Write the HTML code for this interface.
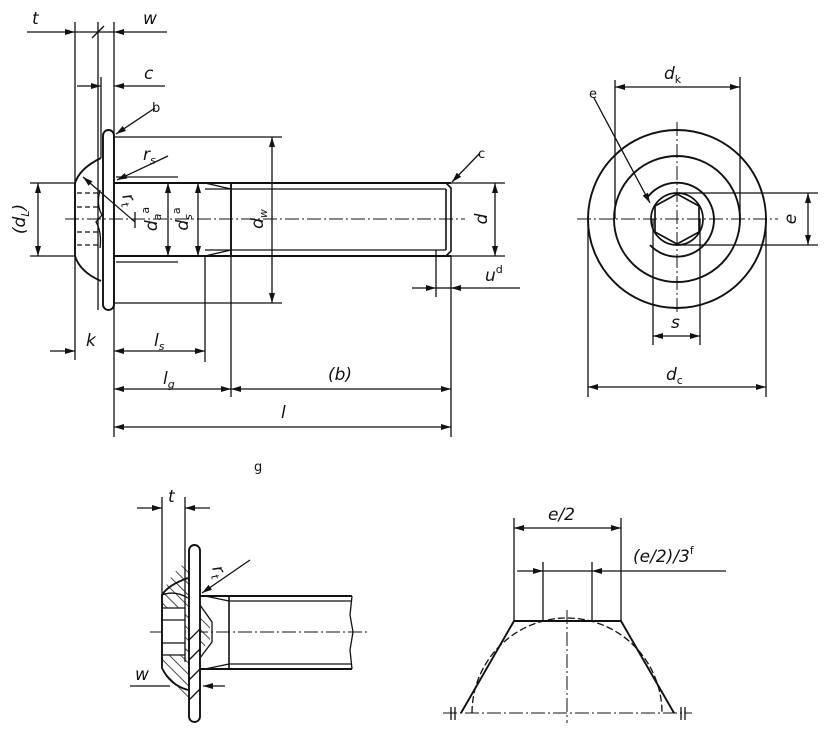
<!DOCTYPE html>
<html><head><style>
html,body{margin:0;padding:0;background:#fff;}
svg{display:block;}
text{font-family:"DejaVu Sans","Liberation Sans",sans-serif;font-style:italic;fill:#111;}
.s{font-style:normal;}
</style></head><body>
<svg width="826" height="737" viewBox="0 0 826 737" xmlns="http://www.w3.org/2000/svg">
<defs>
<marker id="a" viewBox="0 0 10 6" refX="10" refY="3" markerWidth="11" markerHeight="6" markerUnits="userSpaceOnUse" orient="auto"><path d="M0,0L10,3L0,6z" fill="#111"/></marker>
<pattern id="h" width="8" height="8" patternUnits="userSpaceOnUse" patternTransform="rotate(-45)"><line x1="0" y1="0" x2="0" y2="8" stroke="#111" stroke-width="1.5"/></pattern>
</defs>
<g stroke="#111" fill="none" stroke-width="1.3">
<!-- ===== main view ===== -->
<line x1="65" y1="219" x2="465" y2="219" stroke-dasharray="14,3,2,3" stroke-width="1"/>
<path d="M101,158 Q80,168 75,183 L75,256 Q80,272 101,281" stroke-width="1.9"/>
<rect x="103" y="130" width="11" height="180" rx="5.5" stroke-width="1.9"/>
<g stroke-dasharray="5,3"><line x1="77" y1="193" x2="100" y2="193"/><line x1="77" y1="207" x2="100" y2="207"/><line x1="77" y1="232" x2="100" y2="232"/><line x1="77" y1="245" x2="100" y2="245"/></g>
<path d="M100,190 Q96,205 102,215 L96,222 Q102,232 100,248" />
<path d="M114,183 L451,183 M114,256 L451,256" stroke-width="1.9"/>
<path d="M205,189 L446,189 M205,250 L446,250" />
<path d="M205,183 L231,189 M205,256 L231,250" />
<line x1="231" y1="183" x2="231" y2="256" stroke-width="1.9"/>
<path d="M446,183 L451,188 L451,251 L446,256 M446,189 L446,250" stroke-width="1.6"/>
<line x1="75" y1="22" x2="75" y2="360"/>
<line x1="98" y1="22" x2="98" y2="310"/>
<line x1="101" y1="77" x2="101" y2="158"/>
<line x1="114" y1="22" x2="114" y2="437"/>
<line x1="30" y1="183" x2="75" y2="183"/><line x1="30" y1="256" x2="75" y2="256"/>
<line x1="116" y1="177" x2="178" y2="177"/><line x1="116" y1="262" x2="178" y2="262"/>
<line x1="114" y1="137" x2="282" y2="137"/><line x1="114" y1="303" x2="282" y2="303"/>
<line x1="451" y1="183" x2="505" y2="183"/><line x1="451" y1="256" x2="505" y2="256"/>
<line x1="205" y1="256" x2="205" y2="362"/>
<line x1="231" y1="256" x2="231" y2="397"/>
<line x1="451" y1="256" x2="451" y2="437"/>
<line x1="436" y1="250" x2="436" y2="297"/>
<line x1="27" y1="32" x2="75" y2="32" marker-end="url(#a)"/>
<line x1="75" y1="32" x2="114" y2="32"/>
<line x1="92" y1="38" x2="104" y2="26"/>
<line x1="167" y1="32" x2="114" y2="32" marker-end="url(#a)"/>
<line x1="77" y1="86" x2="101" y2="86" marker-end="url(#a)"/>
<line x1="165" y1="86" x2="114" y2="86" marker-end="url(#a)"/>
<line x1="155" y1="108" x2="116" y2="134" marker-end="url(#a)"/>
<line x1="168" y1="156" x2="117" y2="180" marker-end="url(#a)"/>
<line x1="135" y1="222" x2="83" y2="177" marker-end="url(#a)"/>
<line x1="135" y1="212" x2="135" y2="228"/>
<line x1="38" y1="219" x2="38" y2="183" marker-end="url(#a)"/><line x1="38" y1="219" x2="38" y2="256" marker-end="url(#a)"/>
<line x1="168" y1="219" x2="168" y2="183" marker-end="url(#a)"/><line x1="168" y1="219" x2="168" y2="256" marker-end="url(#a)"/>
<line x1="198" y1="219" x2="198" y2="183" marker-end="url(#a)"/><line x1="198" y1="219" x2="198" y2="256" marker-end="url(#a)"/>
<line x1="272" y1="219" x2="272" y2="137" marker-end="url(#a)"/><line x1="272" y1="219" x2="272" y2="303" marker-end="url(#a)"/>
<line x1="495" y1="219" x2="495" y2="183" marker-end="url(#a)"/><line x1="495" y1="219" x2="495" y2="256" marker-end="url(#a)"/>
<line x1="480" y1="153" x2="452" y2="182" marker-end="url(#a)"/>
<line x1="412" y1="288" x2="436" y2="288" marker-end="url(#a)"/>
<line x1="436" y1="288" x2="451" y2="288"/>
<line x1="520" y1="288" x2="451" y2="288" marker-end="url(#a)"/>
<line x1="50" y1="351" x2="75" y2="351" marker-end="url(#a)"/>
<line x1="160" y1="351" x2="114" y2="351" marker-end="url(#a)"/><line x1="160" y1="351" x2="205" y2="351" marker-end="url(#a)"/>
<line x1="170" y1="389" x2="114" y2="389" marker-end="url(#a)"/><line x1="170" y1="389" x2="231" y2="389" marker-end="url(#a)"/>
<line x1="340" y1="389" x2="231" y2="389" marker-end="url(#a)"/><line x1="340" y1="389" x2="451" y2="389" marker-end="url(#a)"/>
<line x1="280" y1="427" x2="114" y2="427" marker-end="url(#a)"/><line x1="280" y1="427" x2="451" y2="427" marker-end="url(#a)"/>

<!-- ===== end view ===== -->
<line x1="577" y1="219" x2="778" y2="219" stroke-dasharray="14,3,2,3" stroke-width="1"/>
<line x1="677" y1="122" x2="677" y2="312" stroke-dasharray="14,3,2,3" stroke-width="1"/>
<circle cx="677" cy="219" r="89" stroke-width="1.9"/>
<circle cx="677" cy="219" r="63" stroke-width="1.9"/>
<path d="M647,198 A37,37 0 1 1 650,245" stroke-width="1.9"/>
<circle cx="677" cy="219" r="26" stroke-width="1.7"/>
<polygon points="677,194 699,206 699,232 677,244 655,232 655,206" stroke-width="1.7"/>
<line x1="615" y1="80" x2="615" y2="219"/><line x1="740" y1="77" x2="740" y2="219"/>
<line x1="677" y1="87" x2="615" y2="87" marker-end="url(#a)"/><line x1="677" y1="87" x2="740" y2="87" marker-end="url(#a)"/>
<line x1="594" y1="98" x2="650" y2="203" marker-end="url(#a)"/>
<line x1="677" y1="193" x2="818" y2="193"/><line x1="677" y1="245" x2="818" y2="245"/>
<line x1="808" y1="219" x2="808" y2="193" marker-end="url(#a)"/><line x1="808" y1="219" x2="808" y2="245" marker-end="url(#a)"/>
<line x1="653" y1="219" x2="653" y2="345"/><line x1="700" y1="219" x2="700" y2="345"/>
<line x1="677" y1="336" x2="653" y2="336" marker-end="url(#a)"/><line x1="677" y1="336" x2="700" y2="336" marker-end="url(#a)"/>
<line x1="588" y1="219" x2="588" y2="397"/><line x1="766" y1="219" x2="766" y2="397"/>
<line x1="677" y1="387" x2="588" y2="387" marker-end="url(#a)"/><line x1="677" y1="387" x2="766" y2="387" marker-end="url(#a)"/>

<!-- ===== section detail ===== -->
<line x1="150" y1="632" x2="370" y2="632" stroke-dasharray="14,3,2,3" stroke-width="1"/>
<path d="M162,595 L162,668 L170,686 L189,700 L189,560 Q170,572 162,595 Z" fill="url(#h)" stroke="none"/>
<path d="M189,608 L200,612 L210,625 L210,640 L200,652 L189,656 Z" fill="url(#h)" stroke="none"/>
<rect x="163" y="608" width="22" height="47" fill="#fff" stroke="none"/>
<path d="M188,578 Q168,585 162,595 L162,668 Q170,685 188,690" stroke-width="1.9"/>
<rect x="189" y="545" width="11" height="177" rx="5.5" stroke-width="1.9" fill="#fff"/>
<path d="M189,640 L200,629 M189,660 L200,649 M189,680 L200,669 M189,700 L200,689" />
<path d="M162,608 L185,608 M162,655 L185,655 M162,620 L185,620 M162,643 L185,643" />
<path d="M185,600 L185,662 M200,605 L212,622 L212,642 L200,658" />
<path d="M162,595 Q175,590 188,598" />
<path d="M200,596 L352,596 M200,669 L352,669" stroke-width="1.9"/>
<path d="M229,601 L352,601 M229,664 L352,664 M205,596 L229,601 M205,669 L229,664" />
<line x1="229" y1="596" x2="229" y2="669" stroke-width="1.6"/>
<path d="M352,596 L350,615 L353,632 L350,650 L352,669" />
<line x1="162" y1="497" x2="162" y2="595"/><line x1="185" y1="497" x2="185" y2="600"/>
<line x1="137" y1="508" x2="162" y2="508" marker-end="url(#a)"/>
<line x1="210" y1="508" x2="185" y2="508" marker-end="url(#a)"/>
<line x1="250" y1="560" x2="202" y2="593" marker-end="url(#a)"/>
<line x1="130" y1="686" x2="170" y2="686"/>
<line x1="225" y1="686" x2="203" y2="686" marker-end="url(#a)"/>

<!-- ===== profile detail ===== -->
<line x1="443" y1="713" x2="692" y2="713" stroke-dasharray="14,3,2,3" stroke-width="1"/>
<line x1="567" y1="610" x2="567" y2="723" stroke-dasharray="14,3,2,3" stroke-width="1"/>
<path d="M461,713 L514,621 L621,621 L674,713" stroke-width="1.9"/>
<path d="M472,713 A95,95 0 0 1 662,713" stroke-dasharray="7,3"/>
<line x1="514" y1="518" x2="514" y2="621"/><line x1="621" y1="518" x2="621" y2="621"/>
<line x1="567" y1="528" x2="514" y2="528" marker-end="url(#a)"/><line x1="567" y1="528" x2="621" y2="528" marker-end="url(#a)"/>
<line x1="543" y1="562" x2="543" y2="621"/><line x1="592" y1="562" x2="592" y2="621"/>
<line x1="517" y1="571" x2="543" y2="571" marker-end="url(#a)"/>
<line x1="726" y1="571" x2="592" y2="571" marker-end="url(#a)"/>
<line x1="543" y1="571" x2="592" y2="571"/>
<path d="M451,707 L451,720 M455,707 L455,720 M681,707 L681,720 M685,707 L685,720"/>
</g>
<g font-size="17">
<text x="32" y="24">t</text>
<text x="143" y="24">w</text>
<text x="144" y="79">c</text>
<text x="152" y="112" font-size="13" class="s">b</text>
<text x="143" y="160">r<tspan font-size="11" dy="4">s</tspan></text>
<text transform="translate(122,196) rotate(70)">r<tspan font-size="11" dy="4">t</tspan></text>
<text transform="translate(25,219) rotate(-90)" text-anchor="middle">(d<tspan font-size="11" dy="4">L</tspan><tspan dy="-4">)</tspan></text>
<text transform="translate(157,219) rotate(-90)" text-anchor="middle">d<tspan font-size="11" dy="4">a</tspan><tspan font-size="11" dy="-12" class="s">a</tspan></text>
<text transform="translate(188,219) rotate(-90)" text-anchor="middle">d<tspan font-size="11" dy="4">s</tspan><tspan font-size="11" dy="-12" class="s">a</tspan></text>
<text transform="translate(263,219) rotate(-90)" text-anchor="middle">d<tspan font-size="11" dy="4">w</tspan></text>
<text transform="translate(487,219) rotate(-90)" text-anchor="middle">d</text>
<text x="478" y="158" font-size="13" class="s">c</text>
<text x="485" y="281">u<tspan font-size="11" dy="-8" class="s">d</tspan></text>
<text x="86" y="346">k</text>
<text x="154" y="346">l<tspan font-size="11" dy="4">s</tspan></text>
<text x="163" y="384">l<tspan font-size="11" dy="4">g</tspan></text>
<text x="328" y="380">(b)</text>
<text x="281" y="418">l</text>
<text x="664" y="79">d<tspan font-size="11" dy="4" class="s">k</tspan></text>
<text x="589" y="98" font-size="13" class="s">e</text>
<text transform="translate(796,219) rotate(-90)" text-anchor="middle">e</text>
<text x="671" y="328">s</text>
<text x="666" y="380">d<tspan font-size="11" dy="4" class="s">c</tspan></text>
<text x="254" y="471" font-size="13" class="s">g</text>
<text x="168" y="502">t</text>
<text transform="translate(212,568) rotate(70)">r<tspan font-size="11" dy="4">t</tspan></text>
<text x="135" y="680">w</text>
<text x="548" y="520">e/2</text>
<text x="633" y="562">(e/2)/3<tspan font-size="11" dy="-8" class="s">f</tspan></text>
</g>
</svg>
</body></html>
